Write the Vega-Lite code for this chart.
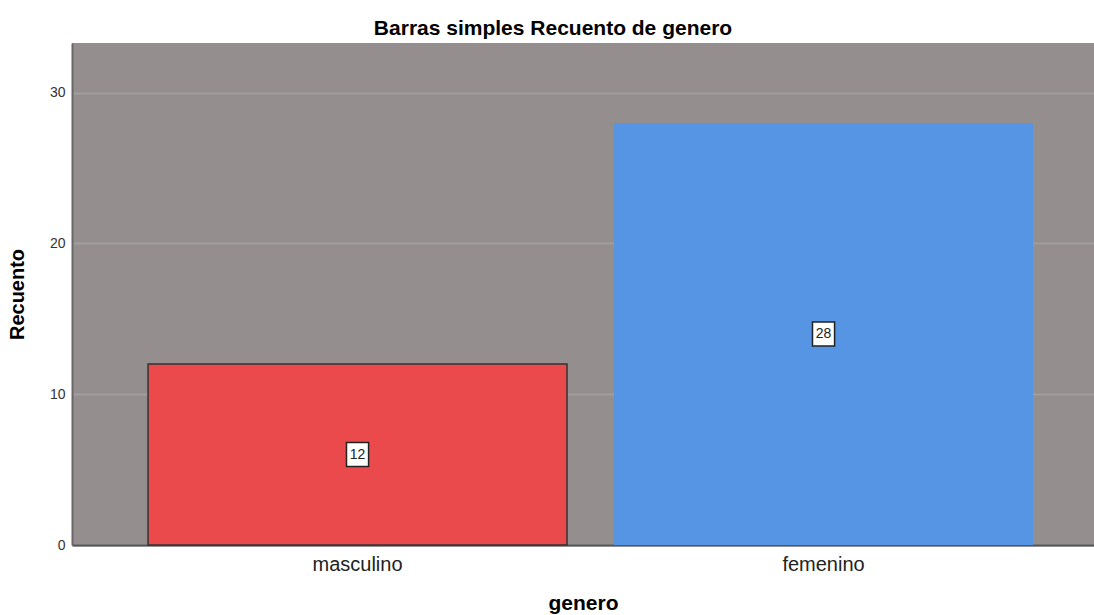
{
  "$schema": "https://vega.github.io/schema/vega-lite/v6.json",
  "width": 1022,
  "height": 502,
  "autosize": {"type": "none"},
  "padding": {"left": 72, "top": 43, "right": 0, "bottom": 70},
  "background": "white",
  "config": {
    "font": "Liberation Sans",
    "view": {"fill": "#948f8e", "stroke": null},
    "title": {"fontSize": 21, "fontWeight": "bold", "color": "#000000", "offset": 4, "dx": -30}
  },
  "title": "Barras simples Recuento de genero",
  "data": {
    "values": [
      {"genero": "masculino", "recuento": 12},
      {"genero": "femenino", "recuento": 28}
    ]
  },
  "encoding": {
    "x": {
      "field": "genero",
      "type": "nominal",
      "sort": ["masculino", "femenino"],
      "scale": {"paddingInner": 0.1009, "paddingOuter": 0.147, "align": 0.555},
      "axis": {
        "title": "genero",
        "titleFontSize": 21,
        "titleFontWeight": "bold",
        "titleColor": "#000000",
        "titlePadding": 18,
        "labelAngle": 0,
        "labelFontSize": 20,
        "labelColor": "#222222",
        "labelPadding": 9,
        "ticks": false,
        "domainColor": "#555555",
        "domainWidth": 2,
        "grid": false
      }
    }
  },
  "layer": [
    {
      "mark": {"type": "bar", "stroke": "#333333"},
      "encoding": {
        "y": {
          "field": "recuento",
          "type": "quantitative",
          "scale": {"domain": [0, 33.3], "nice": false},
          "axis": {
            "title": "Recuento",
            "titleFontSize": 20,
            "titleFontWeight": "bold",
            "titleColor": "#000000",
            "titlePadding": 22,
            "values": [0, 10, 20, 30],
            "labelFontSize": 14,
            "labelColor": "#333333",
            "labelPadding": 7,
            "ticks": false,
            "domainColor": "#6a6666",
            "domainWidth": 2,
            "grid": true,
            "gridColor": "#a29e9d",
            "gridWidth": 2
          }
        },
        "color": {
          "field": "genero",
          "type": "nominal",
          "scale": {"domain": ["masculino", "femenino"], "range": ["#ea4a4b", "#5595e3"]},
          "legend": null
        },
        "strokeWidth": {
          "condition": {"test": "datum.genero === 'masculino'", "value": 1.5},
          "value": 0
        }
      }
    },
    {
      "transform": [{"calculate": "datum.recuento / 2", "as": "mitad"}],
      "mark": {"type": "point", "shape": "M-0.92,-1L0.92,-1L0.92,1L-0.92,1Z", "filled": true, "fill": "white", "stroke": "#222222", "strokeWidth": 1.5, "size": 576, "opacity": 1},
      "encoding": {
        "y": {"field": "mitad", "type": "quantitative"}
      }
    },
    {
      "transform": [{"calculate": "datum.recuento / 2", "as": "mitad"}],
      "mark": {"type": "text", "fontSize": 14, "color": "#222222", "baseline": "middle", "align": "center"},
      "encoding": {
        "y": {"field": "mitad", "type": "quantitative"},
        "text": {"field": "recuento", "type": "quantitative"}
      }
    }
  ]
}
